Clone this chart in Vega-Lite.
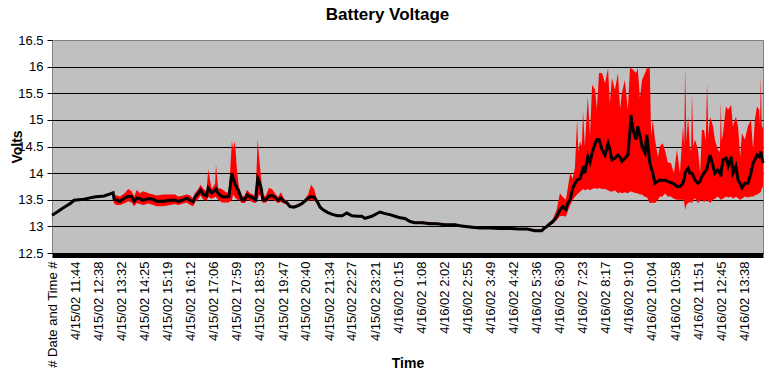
{
  "$schema": "https://vega.github.io/schema/vega-lite/v6.json",
  "autosize": {"type": "none"},
  "width": 711,
  "height": 213,
  "padding": {"left": 52, "top": 40, "right": 11, "bottom": 130},
  "background": "white",
  "title": {"text": "Battery Voltage", "font": "Liberation Sans", "fontSize": 17, "fontWeight": "bold", "color": "black", "anchor": "middle", "frame": "group", "dx": -20, "offset": 10},
  "config": {
    "view": {"fill": "#C0C0C0", "stroke": "#808080", "strokeWidth": 1},
    "font": "Liberation Sans"
  },
  "data": {"values": [
    {"m":650,"a":13.21,"lo":13.19,"hi":13.23},{"m":662,"a":13.27,"lo":13.25,"hi":13.29},{"m":673,"a":13.33,"lo":13.31,"hi":13.35},{"m":685,"a":13.39,"lo":13.37,"hi":13.41},{"m":694,"a":13.44,"lo":13.42,"hi":13.46},{"m":701,"a":13.49,"lo":13.47,"hi":13.51},{"m":713,"a":13.5,"lo":13.48,"hi":13.52},{"m":724,"a":13.51,"lo":13.49,"hi":13.53},{"m":736,"a":13.53,"lo":13.51,"hi":13.55},{"m":748,"a":13.55,"lo":13.53,"hi":13.57},{"m":759,"a":13.56,"lo":13.54,"hi":13.58},{"m":771,"a":13.57,"lo":13.55,"hi":13.59},{"m":782,"a":13.6,"lo":13.58,"hi":13.62},{"m":792,"a":13.63,"lo":13.6,"hi":13.65},
    {"m":794,"a":13.52,"lo":13.43,"hi":13.6},{"m":800,"a":13.49,"lo":13.4,"hi":13.58},{"m":808,"a":13.47,"lo":13.4,"hi":13.56},{"m":820,"a":13.54,"lo":13.44,"hi":13.63},{"m":827,"a":13.56,"lo":13.47,"hi":13.7},{"m":835,"a":13.56,"lo":13.45,"hi":13.66},{"m":841,"a":13.47,"lo":13.38,"hi":13.56},{"m":847,"a":13.53,"lo":13.44,"hi":13.69},{"m":854,"a":13.52,"lo":13.42,"hi":13.62},{"m":862,"a":13.49,"lo":13.4,"hi":13.66},{"m":874,"a":13.52,"lo":13.43,"hi":13.62},{"m":885,"a":13.51,"lo":13.4,"hi":13.6},{"m":893,"a":13.47,"lo":13.38,"hi":13.58},{"m":909,"a":13.47,"lo":13.38,"hi":13.6},{"m":924,"a":13.49,"lo":13.4,"hi":13.6},{"m":936,"a":13.49,"lo":13.42,"hi":13.6},{"m":943,"a":13.47,"lo":13.4,"hi":13.56},{"m":955,"a":13.5,"lo":13.43,"hi":13.58},{"m":963,"a":13.53,"lo":13.45,"hi":13.6},{"m":971,"a":13.49,"lo":13.4,"hi":13.58},{"m":978,"a":13.46,"lo":13.38,"hi":13.52},
    {"m":982,"a":13.55,"lo":13.45,"hi":13.62},{"m":990,"a":13.62,"lo":13.52,"hi":13.7},{"m":995,"a":13.68,"lo":13.58,"hi":13.78},{"m":1002,"a":13.6,"lo":13.5,"hi":13.7},{"m":1009,"a":13.57,"lo":13.48,"hi":13.66},{"m":1013,"a":13.72,"lo":13.55,"hi":14.07},{"m":1021,"a":13.63,"lo":13.52,"hi":13.7},{"m":1029,"a":13.68,"lo":13.55,"hi":13.8},{"m":1031,"a":13.7,"lo":13.55,"hi":14.16},{"m":1036,"a":13.62,"lo":13.5,"hi":13.72},{"m":1045,"a":13.56,"lo":13.45,"hi":13.7},{"m":1054,"a":13.55,"lo":13.45,"hi":13.64},{"m":1061,"a":13.56,"lo":13.45,"hi":13.62},{"m":1068,"a":14.0,"lo":13.5,"hi":14.61},{"m":1071,"a":13.9,"lo":13.6,"hi":14.44},{"m":1075,"a":13.8,"lo":13.55,"hi":14.61},{"m":1080,"a":13.72,"lo":13.5,"hi":14.03},{"m":1084,"a":13.66,"lo":13.5,"hi":13.75},{"m":1091,"a":13.5,"lo":13.44,"hi":13.56},{"m":1098,"a":13.5,"lo":13.44,"hi":13.58},{"m":1103,"a":13.59,"lo":13.5,"hi":13.69},{"m":1110,"a":13.56,"lo":13.48,"hi":13.62},{"m":1117,"a":13.53,"lo":13.45,"hi":13.6},{"m":1123,"a":13.5,"lo":13.44,"hi":13.56},{"m":1128,"a":13.9,"lo":13.5,"hi":14.64},{"m":1131,"a":13.85,"lo":13.6,"hi":14.31},{"m":1136,"a":13.72,"lo":13.55,"hi":13.9},{"m":1140,"a":13.5,"lo":13.44,"hi":13.56},{"m":1147,"a":13.5,"lo":13.45,"hi":13.58},{"m":1154,"a":13.57,"lo":13.5,"hi":13.72},{"m":1161,"a":13.58,"lo":13.5,"hi":13.7},{"m":1168,"a":13.55,"lo":13.48,"hi":13.62},{"m":1175,"a":13.49,"lo":13.44,"hi":13.55},{"m":1182,"a":13.53,"lo":13.46,"hi":13.64},{"m":1189,"a":13.47,"lo":13.43,"hi":13.52},{"m":1196,"a":13.44,"lo":13.41,"hi":13.48},{"m":1203,"a":13.37,"lo":13.35,"hi":13.4},{"m":1212,"a":13.36,"lo":13.34,"hi":13.39},{"m":1222,"a":13.39,"lo":13.37,"hi":13.42},{"m":1231,"a":13.43,"lo":13.41,"hi":13.46},{"m":1238,"a":13.48,"lo":13.45,"hi":13.52},{"m":1245,"a":13.53,"lo":13.48,"hi":13.6},{"m":1252,"a":13.56,"lo":13.5,"hi":13.78},{"m":1259,"a":13.55,"lo":13.48,"hi":13.7},{"m":1266,"a":13.47,"lo":13.44,"hi":13.5},
    {"m":1273,"a":13.36,"lo":13.34,"hi":13.38},{"m":1280,"a":13.31,"lo":13.29,"hi":13.33},{"m":1291,"a":13.26,"lo":13.24,"hi":13.28},{"m":1303,"a":13.22,"lo":13.2,"hi":13.24},{"m":1314,"a":13.2,"lo":13.18,"hi":13.22},{"m":1324,"a":13.2,"lo":13.18,"hi":13.22},{"m":1335,"a":13.25,"lo":13.23,"hi":13.27},{"m":1347,"a":13.2,"lo":13.18,"hi":13.22},{"m":1361,"a":13.19,"lo":13.17,"hi":13.21},{"m":1370,"a":13.19,"lo":13.17,"hi":13.21},{"m":1377,"a":13.15,"lo":13.13,"hi":13.17},{"m":1393,"a":13.19,"lo":13.17,"hi":13.21},{"m":1412,"a":13.27,"lo":13.25,"hi":13.29},{"m":1424,"a":13.24,"lo":13.22,"hi":13.26},{"m":1435,"a":13.22,"lo":13.2,"hi":13.24},{"m":1447,"a":13.19,"lo":13.17,"hi":13.21},{"m":1459,"a":13.16,"lo":13.14,"hi":13.18},{"m":1470,"a":13.15,"lo":13.13,"hi":13.17},{"m":1482,"a":13.09,"lo":13.07,"hi":13.11},{"m":1493,"a":13.07,"lo":13.05,"hi":13.09},{"m":1510,"a":13.07,"lo":13.05,"hi":13.09},{"m":1528,"a":13.05,"lo":13.03,"hi":13.08},{"m":1545,"a":13.05,"lo":13.03,"hi":13.07},{"m":1563,"a":13.03,"lo":13.01,"hi":13.05},{"m":1586,"a":13.03,"lo":13.01,"hi":13.05},{"m":1598,"a":13.01,"lo":12.99,"hi":13.03},{"m":1621,"a":12.99,"lo":12.97,"hi":13.01},{"m":1644,"a":12.97,"lo":12.95,"hi":12.99},{"m":1668,"a":12.97,"lo":12.95,"hi":12.99},{"m":1691,"a":12.96,"lo":12.94,"hi":12.98},{"m":1714,"a":12.96,"lo":12.94,"hi":12.98},{"m":1737,"a":12.95,"lo":12.93,"hi":12.97},{"m":1754,"a":12.95,"lo":12.93,"hi":12.97},{"m":1772,"a":12.92,"lo":12.9,"hi":12.94},{"m":1788,"a":12.92,"lo":12.9,"hi":12.94},{"m":1793,"a":12.96,"lo":12.93,"hi":12.98},{"m":1800,"a":13.0,"lo":12.97,"hi":13.03},{"m":1807,"a":13.05,"lo":13.01,"hi":13.08},{"m":1814,"a":13.09,"lo":13.05,"hi":13.14},
    {"m":1823,"a":13.19,"lo":13.12,"hi":13.32},{"m":1830,"a":13.31,"lo":13.19,"hi":13.62},{"m":1837,"a":13.37,"lo":13.2,"hi":13.55},{"m":1844,"a":13.32,"lo":13.18,"hi":13.5},{"m":1849,"a":13.45,"lo":13.3,"hi":13.75},{"m":1854,"a":13.5,"lo":13.4,"hi":14.0},{"m":1860,"a":13.72,"lo":13.5,"hi":13.9},{"m":1865,"a":13.8,"lo":13.55,"hi":14.1},{"m":1870,"a":13.87,"lo":13.6,"hi":15.0},{"m":1873,"a":13.88,"lo":13.62,"hi":14.4},{"m":1877,"a":13.9,"lo":13.65,"hi":14.6},{"m":1881,"a":14.0,"lo":13.68,"hi":14.5},{"m":1884,"a":14.13,"lo":13.7,"hi":15.16},{"m":1888,"a":14.0,"lo":13.68,"hi":14.5},{"m":1895,"a":14.31,"lo":13.7,"hi":15.44},{"m":1900,"a":14.2,"lo":13.68,"hi":14.7},{"m":1905,"a":14.38,"lo":13.7,"hi":15.66},{"m":1912,"a":14.56,"lo":13.72,"hi":15.56},{"m":1916,"a":14.63,"lo":13.7,"hi":15.2},{"m":1921,"a":14.63,"lo":13.72,"hi":15.88},{"m":1928,"a":14.44,"lo":13.7,"hi":15.88},{"m":1935,"a":14.34,"lo":13.7,"hi":15.69},{"m":1942,"a":14.56,"lo":13.68,"hi":15.97},{"m":1946,"a":14.45,"lo":13.66,"hi":15.3},{"m":1951,"a":14.25,"lo":13.65,"hi":15.78},{"m":1958,"a":14.28,"lo":13.68,"hi":15.56},{"m":1965,"a":14.34,"lo":13.62,"hi":15.88},{"m":1970,"a":14.3,"lo":13.64,"hi":15.2},{"m":1974,"a":14.22,"lo":13.62,"hi":15.5},{"m":1981,"a":14.28,"lo":13.64,"hi":15.75},{"m":1988,"a":14.34,"lo":13.62,"hi":15.19},{"m":1993,"a":14.8,"lo":13.65,"hi":15.99},{"m":1995,"a":15.09,"lo":13.66,"hi":15.97},{"m":2000,"a":14.81,"lo":13.64,"hi":15.94},{"m":2007,"a":14.63,"lo":13.62,"hi":15.88},{"m":2011,"a":14.88,"lo":13.62,"hi":15.97},{"m":2016,"a":14.7,"lo":13.6,"hi":15.4},{"m":2021,"a":14.5,"lo":13.6,"hi":15.75},{"m":2028,"a":14.38,"lo":13.55,"hi":15.88},{"m":2032,"a":14.72,"lo":13.55,"hi":15.97},{"m":2039,"a":14.19,"lo":13.44,"hi":15.97},{"m":2042,"a":14.1,"lo":13.44,"hi":14.7},{"m":2046,"a":14.0,"lo":13.45,"hi":15.0},{"m":2051,"a":13.81,"lo":13.44,"hi":14.63},{"m":2058,"a":13.85,"lo":13.5,"hi":14.3},{"m":2062,"a":13.87,"lo":13.56,"hi":14.5},{"m":2069,"a":13.86,"lo":13.56,"hi":14.56},{"m":2074,"a":13.87,"lo":13.62,"hi":14.44},{"m":2081,"a":13.84,"lo":13.56,"hi":14.2},{"m":2088,"a":13.82,"lo":13.56,"hi":14.19},{"m":2095,"a":13.8,"lo":13.52,"hi":14.0},{"m":2102,"a":13.75,"lo":13.5,"hi":14.44},{"m":2109,"a":13.75,"lo":13.5,"hi":14.0},{"m":2116,"a":13.81,"lo":13.5,"hi":14.88},{"m":2119,"a":13.9,"lo":13.45,"hi":14.5},{"m":2121,"a":14.0,"lo":13.31,"hi":15.99},{"m":2124,"a":14.05,"lo":13.4,"hi":14.6},{"m":2128,"a":14.09,"lo":13.44,"hi":15.06},{"m":2132,"a":14.0,"lo":13.46,"hi":14.5},{"m":2135,"a":14.0,"lo":13.45,"hi":14.4},{"m":2137,"a":14.0,"lo":13.44,"hi":15.5},{"m":2140,"a":13.95,"lo":13.5,"hi":14.5},{"m":2144,"a":13.87,"lo":13.53,"hi":14.63},{"m":2151,"a":13.81,"lo":13.44,"hi":14.44},{"m":2156,"a":13.85,"lo":13.48,"hi":14.0},{"m":2160,"a":13.94,"lo":13.5,"hi":14.81},{"m":2165,"a":14.0,"lo":13.46,"hi":14.81},{"m":2169,"a":14.05,"lo":13.48,"hi":14.6},{"m":2172,"a":14.09,"lo":13.5,"hi":15.69},{"m":2175,"a":14.2,"lo":13.47,"hi":14.7},{"m":2179,"a":14.34,"lo":13.44,"hi":15.06},{"m":2186,"a":14.13,"lo":13.5,"hi":14.88},{"m":2190,"a":14.0,"lo":13.52,"hi":14.63},{"m":2197,"a":14.06,"lo":13.56,"hi":14.44},{"m":2202,"a":14.0,"lo":13.52,"hi":14.4},{"m":2204,"a":13.94,"lo":13.5,"hi":15.34},{"m":2206,"a":14.1,"lo":13.51,"hi":14.6},{"m":2209,"a":14.25,"lo":13.52,"hi":14.75},{"m":2216,"a":14.28,"lo":13.56,"hi":15.25},{"m":2221,"a":14.13,"lo":13.54,"hi":15.19},{"m":2228,"a":14.31,"lo":13.56,"hi":15.28},{"m":2232,"a":14.0,"lo":13.52,"hi":14.88},{"m":2239,"a":14.13,"lo":13.56,"hi":15.06},{"m":2244,"a":13.87,"lo":13.53,"hi":14.88},{"m":2249,"a":13.8,"lo":13.5,"hi":14.3},{"m":2253,"a":13.72,"lo":13.52,"hi":14.75},{"m":2260,"a":13.81,"lo":13.56,"hi":14.63},{"m":2267,"a":13.81,"lo":13.54,"hi":14.88},{"m":2274,"a":14.0,"lo":13.56,"hi":15.0},{"m":2279,"a":14.19,"lo":13.56,"hi":14.44},{"m":2283,"a":14.25,"lo":13.58,"hi":15.0},{"m":2288,"a":14.34,"lo":13.6,"hi":15.25},{"m":2293,"a":14.31,"lo":13.62,"hi":15.19},{"m":2295,"a":14.35,"lo":13.63,"hi":14.9},{"m":2297,"a":14.41,"lo":13.65,"hi":15.81},{"m":2299,"a":14.3,"lo":13.7,"hi":14.9},{"m":2302,"a":14.19,"lo":13.75,"hi":14.84}
  ]},
  "encoding": {
    "x": {
      "field": "m", "type": "quantitative",
      "scale": {"domain": [650, 2302], "nice": false, "zero": false},
      "axis": {
        "values": [650,704,758,812,865,919,972,1026,1079,1133,1187,1240,1294,1347,1401,1455,1508,1562,1615,1669,1722,1776,1830,1883,1937,1990,2044,2098,2151,2205,2258],
        "labelExpr": "datum.value == 650 ? '# Date and Time #' : utcFormat(datum.value * 60000 + 1018828800000, '%-m/%-d/%y %-H:%M')",
        "labelAngle": 270,
        "labelFont": "Liberation Sans", "labelFontSize": 13, "labelColor": "black",
        "labelOverlap": false, "labelFlush": false, "labelBound": false,
        "labelPadding": 6,
        "ticks": false, "grid": false,
        "domain": true, "domainColor": "black", "domainWidth": 5,
        "offset": 2,
        "title": "Time", "titleFont": "Liberation Sans", "titleFontSize": 14, "titleFontWeight": "bold", "titleColor": "black",
        "titleX": 355.5, "titleY": 108, "titleBaseline": "middle", "titleAlign": "center"
      }
    }
  },
  "layer": [
    {
      "mark": {"type": "area", "color": "#FF0000", "opacity": 1},
      "encoding": {
        "y": {
          "field": "lo", "type": "quantitative",
          "scale": {"domain": [12.5, 16.5], "nice": false, "zero": false},
          "axis": {
            "values": [12.5,13,13.5,14,14.5,15,15.5,16,16.5],
            "format": "~g",
            "labelFont": "Liberation Sans", "labelFontSize": 13, "labelColor": "black", "labelPadding": 4,
            "tickSize": 5, "tickColor": "black", "tickWidth": 1,
            "domain": false,
            "grid": true,
            "gridColor": {"condition": {"test": "datum.value > 16.4", "value": "#808080"}, "value": "black"},
            "gridWidth": 1, "gridOpacity": 1,
            "title": "Volts", "titleFont": "Liberation Sans", "titleFontSize": 14, "titleFontWeight": "bold", "titleColor": "black",
            "titleAngle": 270, "titleX": -35, "titleY": 106.5, "titleBaseline": "middle", "titleAlign": "center"
          }
        },
        "y2": {"field": "hi"}
      }
    },
    {
      "mark": {"type": "line", "color": "black", "strokeWidth": 3},
      "encoding": {
        "y": {
          "field": "a", "type": "quantitative",
          "scale": {"domain": [12.5, 16.5], "nice": false, "zero": false},
          "axis": {
            "values": [12.5,13,13.5,14,14.5,15,15.5,16,16.5],
            "format": "~g",
            "labelFont": "Liberation Sans", "labelFontSize": 13, "labelColor": "black", "labelPadding": 4,
            "tickSize": 5, "tickColor": "black", "tickWidth": 1,
            "domain": false,
            "grid": true,
            "gridColor": {"condition": {"test": "datum.value > 16.4", "value": "#808080"}, "value": "black"},
            "gridWidth": 1, "gridOpacity": 1,
            "title": "Volts", "titleFont": "Liberation Sans", "titleFontSize": 14, "titleFontWeight": "bold", "titleColor": "black",
            "titleAngle": 270, "titleX": -35, "titleY": 106.5, "titleBaseline": "middle", "titleAlign": "center"
          }
        }
      }
    }
  ]
}
